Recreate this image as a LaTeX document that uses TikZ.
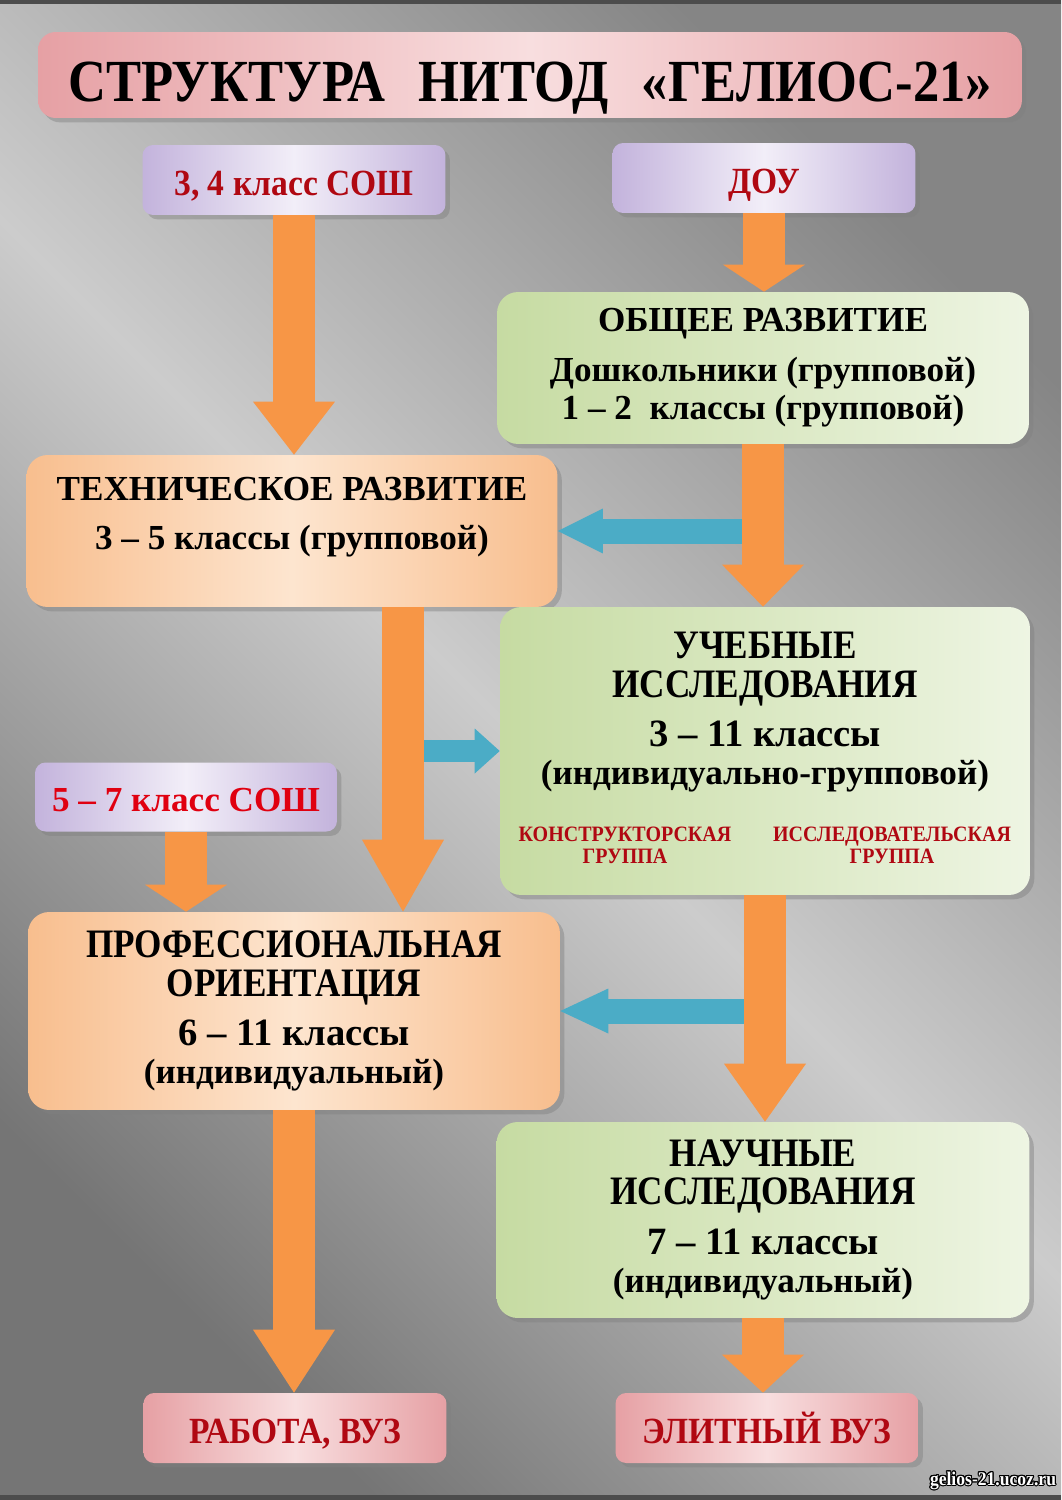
\documentclass[tikz,border=0pt]{standalone}
\usepackage{fontspec}
\setmainfont{Liberation Serif}
\newfontfamily\narrowfont[FakeStretch=0.88]{Liberation Serif}
\newfontfamily\tagfamily[FakeStretch=0.91]{Liberation Serif}
\newfontfamily\headfamily[FakeStretch=0.87]{Liberation Serif}
\usepackage{contour}
\contourlength{0.6pt}
\usetikzlibrary{positioning,calc,shadows,arrows.meta}

\definecolor{orangeA}{HTML}{F79646}
\definecolor{blueA}{HTML}{4BACC6}
\definecolor{pinkD}{HTML}{E6A0A4}
\definecolor{pinkL}{HTML}{F8DEDF}
\definecolor{lilacD}{HTML}{C3B3DC}
\definecolor{lilacL}{HTML}{F2EEF8}
\definecolor{greenD}{HTML}{C6DBA2}
\definecolor{greenL}{HTML}{EEF5E3}
\definecolor{peachD}{HTML}{F8BE8E}
\definecolor{peachL}{HTML}{FDE5CF}
\definecolor{darkred}{HTML}{B00812}
\definecolor{brightred}{HTML}{E00010}

\newcommand{\titlefont}{\narrowfont\bfseries\fontsize{34}{34}\selectfont}
\newcommand{\tagfont}{\tagfamily\bfseries\fontsize{21}{21}\selectfont}
\newcommand{\widehead}{\bfseries\fontsize{20}{22}\selectfont}
\newcommand{\narrowhead}{\headfamily\bfseries\fontsize{23}{22}\selectfont}
\newcommand{\bodyfont}{\bfseries\fontsize{20}{22}\selectfont}
\newcommand{\bigline}{\fontsize{22}{22}\selectfont}

\tikzset{
  basebox/.style={inner sep=0pt, align=center, font=\bodyfont,
    drop shadow={shadow xshift=2.5pt, shadow yshift=-2.5pt, opacity=0.45}},
  pinkbox/.style={basebox, rounded corners=6pt,
    left color=pinkD, right color=pinkD, middle color=pinkL},
  lilacbox/.style={basebox, rounded corners=6pt,
    left color=lilacD, right color=lilacD, middle color=lilacL},
  greenbox/.style={basebox, rounded corners=12pt,
    left color=greenD, right color=greenL},
  peachbox/.style={basebox, rounded corners=12pt,
    left color=peachD, right color=peachD, middle color=peachL},
  tagbox/.style={minimum width=6.06cm, minimum height=1.4cm, font=\tagfont,
    text=darkred, text height=17.3pt, text depth=0pt},
  boxtext/.style={inner sep=0pt, align=center, font=\bodyfont},
  redsmall/.style={inner sep=0pt, align=center, text=darkred,
    font=\tagfamily\bfseries\fontsize{12.5}{12}\selectfont},
  oarrow/.style={draw=orangeA, line width=0.84cm,
    -{Triangle[width=1.64cm, length=#1, line width=0pt]}},
  barrow/.style={draw=blueA, line width=0.5cm,
    -{Triangle[width=0.9cm, length=#1, line width=0pt]}}
}

\begin{document}
\begin{tikzpicture}[x=0.02cm, y=-0.02cm]
\useasboundingbox (0,0) rectangle (1061,1500);
% background
\shade[top color=black!48, bottom color=black!54, middle color=black!20, shading angle=-45]
  (0,0) rectangle (1061,1500);
\fill[black!70] (0,0) rectangle (1061,4);
\fill[black!70] (0,1495) rectangle (1061,1500);

% boxes
\node[pinkbox, rounded corners=10pt, minimum width=19.68cm, minimum height=1.72cm,
  text height=30.5pt, text depth=0pt] (title) at (530,75)
  {\titlefont СТРУКТУРА\hspace{0.55em}НИТОД\hspace{0.55em}«ГЕЛИОС-21»};
\node[lilacbox, tagbox] (sosh34) at (294,180) {3, 4 класс СОШ};
\node[lilacbox, tagbox] (dou) at (764,178) {ДОУ};
\node[greenbox, minimum width=10.64cm, minimum height=3.04cm] (obsh) at (763,368)
  {{\widehead ОБЩЕЕ РАЗВИТИЕ}\\[6pt] Дошкольники (групповой)\\ 1 – 2\ \ классы (групповой)};
\node[peachbox, minimum width=10.62cm, minimum height=3.04cm] (tech) at (292,531) {};
\node[boxtext, below=0.44cm of tech.north] (techtext)
  {{\widehead ТЕХНИЧЕСКОЕ РАЗВИТИЕ}\\[6pt] 3 – 5 классы (групповой)};
\node[greenbox, minimum width=10.6cm, minimum height=5.76cm] (ucheb) at (765,751) {};
\node[boxtext, below=0.5cm of ucheb.north] (uchebtext)
  {{\narrowhead УЧЕБНЫЕ}\\{\narrowhead ИССЛЕДОВАНИЯ}\\[6pt]{\bigline 3 – 11 классы}\\(индивидуально-групповой)};
\node[redsmall] (konstr) at ($(ucheb.south)+(-140,-50)$) {КОНСТРУКТОРСКАЯ\\ГРУППА};
\node[redsmall] (issled) at ($(ucheb.south)+(127,-50)$) {ИССЛЕДОВАТЕЛЬСКАЯ\\ГРУППА};
\node[lilacbox, minimum width=6.04cm, minimum height=1.38cm, text=brightred,
  text height=16.5pt, text depth=0pt] (sosh57) at (186,797) {5 – 7 класс СОШ};
\node[peachbox, minimum width=10.64cm, minimum height=3.96cm] (prof) at (294,1011)
  {{\narrowhead ПРОФЕССИОНАЛЬНАЯ}\\{\narrowhead ОРИЕНТАЦИЯ}\\[6pt]{\bigline 6 – 11 классы}\\(индивидуальный)};
\node[greenbox, minimum width=10.66cm, minimum height=3.92cm] (nauch) at (763,1220)
  {{\narrowhead НАУЧНЫЕ}\\{\narrowhead ИССЛЕДОВАНИЯ}\\[6pt]{\bigline 7 – 11 классы}\\(индивидуальный)};
\node[pinkbox, tagbox] (rabota) at (295,1428) {РАБОТА, ВУЗ};
\node[pinkbox, tagbox] (elit) at (767,1428) {ЭЛИТНЫЙ ВУЗ};
\node[font=\tagfamily\bfseries\fontsize{11}{11}\selectfont, text=white] (site) at (993,1481) {\contour{black}{gelios-21.ucoz.ru}};

% blue arrows
\coordinate (techout) at ($(tech.south)+(111,0)$);
\draw[barrow=0.9cm] (obsh.south |- tech.east) -- (tech.east);
\draw[barrow=0.5cm, line width=0.44cm] (techout |- ucheb.west) -- (ucheb.west);
\draw[barrow=0.96cm] (ucheb.south |- prof.east) -- (prof.east);

% orange arrows
\draw[oarrow=1.06cm] (sosh34.south) -- (sosh34.south |- tech.north);
\draw[oarrow=0.54cm] (dou.south) -- (dou.south |- obsh.north);
\draw[oarrow=0.84cm] (obsh.south) -- (obsh.south |- ucheb.north);
\draw[oarrow=1.44cm] (techout) -- (techout |- prof.north);
\draw[oarrow=0.54cm] (sosh57.south) -- (sosh57.south |- prof.north);
\draw[oarrow=1.16cm] (ucheb.south) -- (ucheb.south |- nauch.north);
\draw[oarrow=1.26cm] (prof.south) -- (prof.south |- rabota.north);
\draw[oarrow=0.76cm] (nauch.south) -- (nauch.south |- elit.north);
\end{tikzpicture}
\end{document}
